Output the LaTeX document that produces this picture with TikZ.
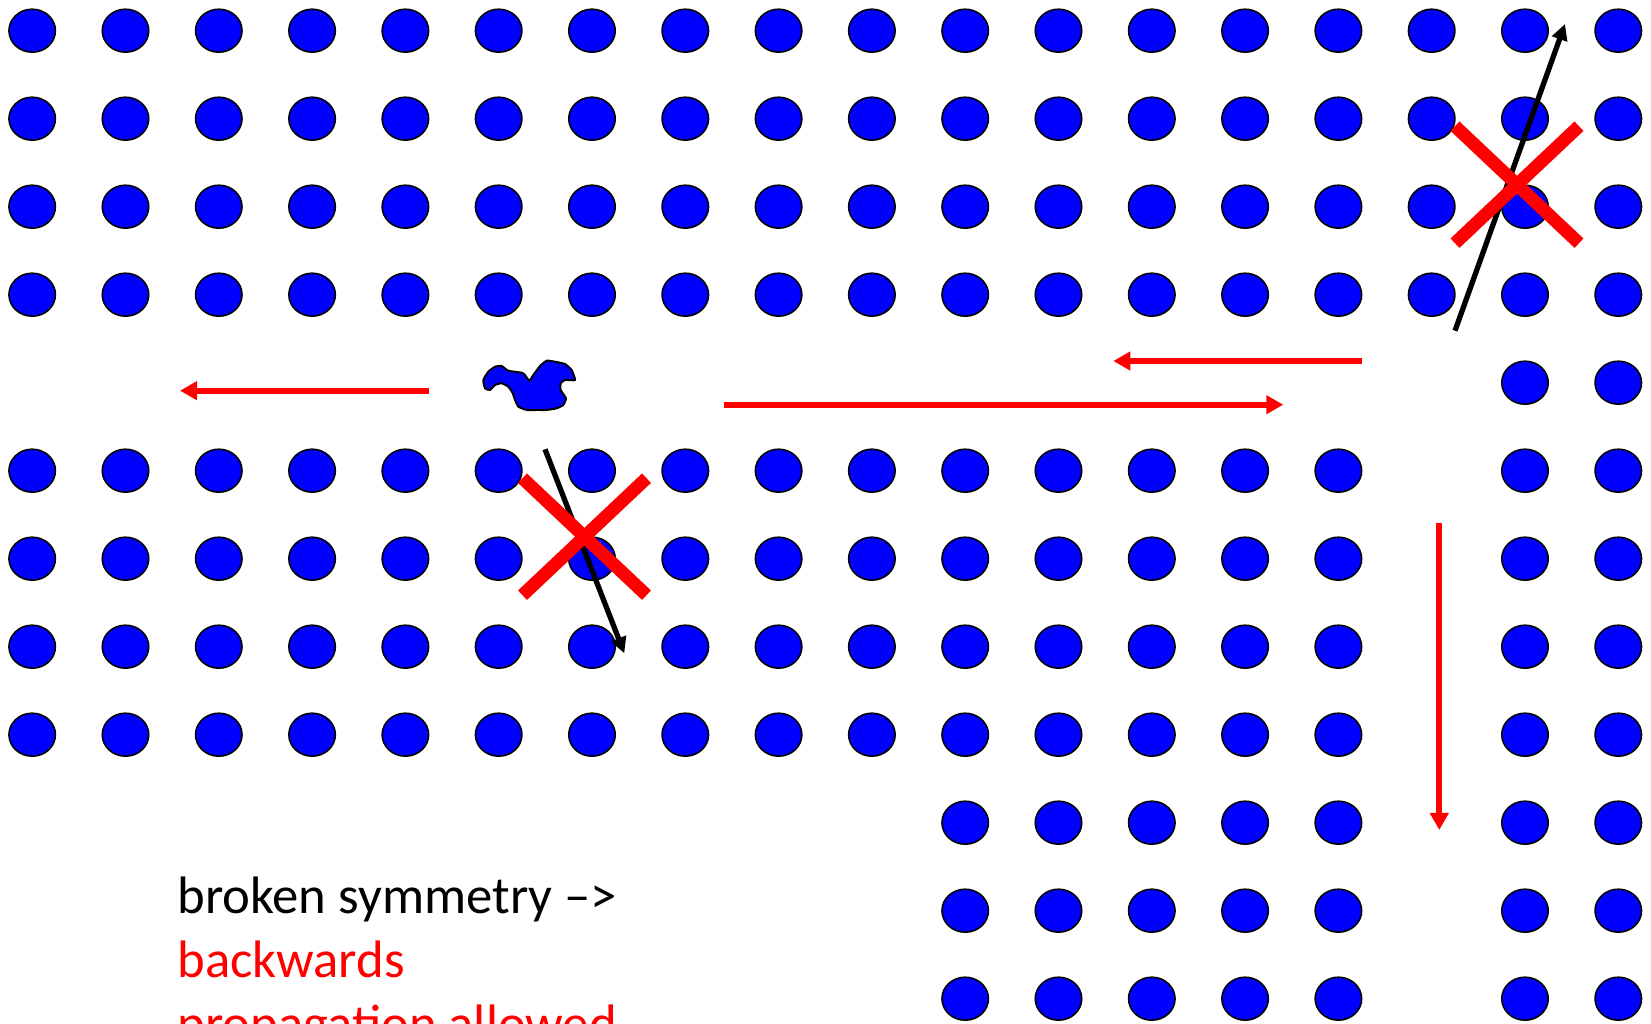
\documentclass[tikz,border=0pt]{standalone}
\usepackage{fontspec}
\setmainfont{Carlito}
\usepackage{xcolor}
\usetikzlibrary{arrows.meta,shapes.geometric,calc}
\definecolor{latblue}{RGB}{0,0,255}
\definecolor{xred}{RGB}{255,0,0}
\tikzset{
  atom/.style={ellipse, draw, line width=0.45pt, fill=latblue, inner sep=0pt,
               minimum width=4.65mm, minimum height=4.3mm},
  blob/.style={draw, line width=0.55pt, fill=latblue},
  flow/.style={-{Triangle[length=1.7mm,width=1.8mm]}, line width=1.7pt, draw=xred, fill=xred},
  kick/.style={-{Triangle[length=1.6mm,width=1.55mm]}, line width=1.5pt},
  veto/.style={line width=3.7pt, draw=xred},
  lbl/.style={font=\fontsize{15}{18.2}\selectfont, align=left, inner sep=0pt},
}

\begin{document}
\begin{tikzpicture}[x=0.1mm, y=-0.1mm]
  \useasboundingbox (0,0) rectangle (1651,1024);
  \foreach \j in {0,...,3} \foreach \i in {0,...,17}
    \node[atom] (d-\i-\j) at ({32.2+93.3*\i},{30.7+88*\j}) {};
  \foreach \j in {4,...,11} \foreach \i in {16,17}
    \node[atom] (d-\i-\j) at ({32.2+93.3*\i},{30.7+88*\j}) {};
  \foreach \j in {5,...,8} \foreach \i in {0,...,14}
    \node[atom] (d-\i-\j) at ({32.2+93.3*\i},{30.7+88*\j}) {};
  \foreach \j in {9,10,11} \foreach \i in {10,...,14}
    \node[atom] (d-\i-\j) at ({32.2+93.3*\i},{30.7+88*\j}) {};
  \draw[blob] plot[smooth cycle, tension=0.3] coordinates {
    (483.3,380) (488.3,371.7) (495,366.7) (501.7,366) (508.3,370.7) (521.7,372.7)
    (525,375) (529.3,380.7) (533.3,375) (540,366) (546.7,360.7) (555,361.7)
    (565,364) (571.7,370) (575,380) (565,380) (560.7,383.3) (560.7,390)
    (566,398.3) (563.3,405) (556.7,408.3) (546.7,410) (536.7,410) (526.7,410)
    (518.3,406.7) (515,400) (512.7,393.3) (508.3,386.7) (501.7,383.3) (495,385)
    (490,390) (485,388.3)};
  \coordinate (l0) at (428.6,390.7);  \coordinate (l1) at (180,390.7);
  \coordinate (m0) at (724,404.7);    \coordinate (m1) at (1283.3,404.7);
  \coordinate (u0) at (1361.6,361);   \coordinate (u1) at (1113.3,361);
  \coordinate (v0) at (1439.3,522.7); \coordinate (v1) at (1439.3,830);
  \coordinate (k0) at (545,449.3);    \coordinate (k1) at (624.3,653.3);
  \coordinate (q0) at (1455,330.7);   \coordinate (q1) at (1565,24);
  \coordinate (x1) at (584.5,536.7);  \coordinate (x2) at (1517,184.7);
  \foreach \a/\b in {l0/l1,m0/m1,u0/u1,v0/v1} \draw[flow] (\a) -- (\b);
  \foreach \a/\b in {k0/k1,q0/q1} \draw[kick] (\a) -- (\b);
  \foreach \c in {x1,x2} {
    \draw[veto] ($(\c)+(-62,-58.5)$) -- ($(\c)+(62,58.5)$);
    \draw[veto] ($(\c)+(62,-58.5)$) -- ($(\c)+(-62,58.5)$);
  }
  \node[lbl, anchor=base west] (note) at (176.7,1041)
    {broken symmetry –>\\\textcolor{xred}{backwards}\\\textcolor{xred}{propagation allowed}};
\end{tikzpicture}
\end{document}
